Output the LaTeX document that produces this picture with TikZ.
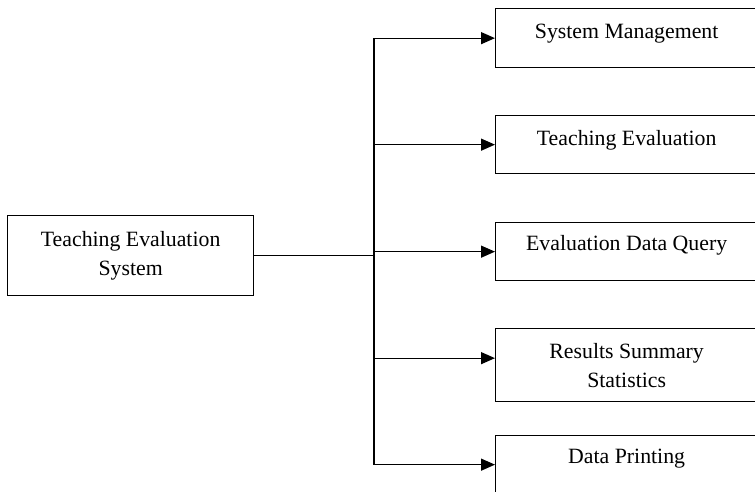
\documentclass[tikz,border=0pt]{standalone}
\usepackage{fontspec}
\setmainfont{Liberation Serif}
\usetikzlibrary{arrows.meta, positioning}

\begin{document}
\begin{tikzpicture}[x=1pt, y=-1pt, font=\fontsize{21.8}{29}\selectfont,
                module/.style={draw, line width=1.3pt, anchor=north west, inner sep=0pt, align=center},
                link/.style={-{Triangle[length=14pt, width=12pt]}, line width=1.3pt}]
                \useasboundingbox (0,0) rectangle (755,491);
                % Root module on the left
                \node[module, minimum width=246pt, minimum height=80pt] (system) at (7,215) {Teaching Evaluation\\System};

                % Sub-modules - boxes run past the right border
                \node[module, minimum width=262pt, minimum height=59pt, text height=15pt, text depth=15pt] (mgmt) at (495,8) {System Management};
                \node[module, minimum width=262pt, minimum height=58pt, text height=15pt, text depth=13pt] (teach) at (495,115) {Teaching Evaluation};
                \node[module, minimum width=262pt, minimum height=58pt, text height=15pt, text depth=18pt] (query) at (495,222) {Evaluation Data Query};
                \node[module, minimum width=262pt, minimum height=73pt] (stats) at (495,328) {Results Summary\\Statistics};
                \node[module, minimum width=262pt, minimum height=58pt, text height=15pt, text depth=18pt] (print) at (495,435) {Data Printing};

                % Trunk line
                \coordinate (trunk) at (374,0);
                \coordinate (statsin) at ([yshift=7pt]stats.west);
                \draw[line width=1.3pt] (system.east) -- (trunk |- system.east);
                \draw[line width=1.3pt] (trunk |- mgmt.west) -- (trunk |- print.west);

                % Branches - one arrow to each sub-module
                \draw[link] (trunk |- mgmt.west) -- (mgmt.west);
                \draw[link] (trunk |- teach.west) -- (teach.west);
                \draw[link] (trunk |- query.west) -- (query.west);
                \draw[link] (trunk |- statsin) -- (statsin);
                \draw[link] (trunk |- print.west) -- (print.west);
\end{tikzpicture}
\end{document}
